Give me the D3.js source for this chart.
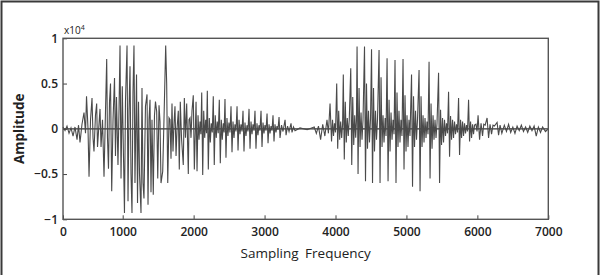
<!DOCTYPE html>
<html>
<head>
<meta charset="utf-8">
<script src="https://cdn.jsdelivr.net/npm/d3@7"></script>
<style>
  html, body { margin: 0; padding: 0; background: #fff; }
  svg text { font-family: "Open Sans", "Noto Sans", sans-serif; fill: #222; }
</style>
</head>
<body>
<svg id="chart" width="603" height="275"></svg>
<script>
// waveform: sample index and amplitude (x10^4)
const waveSample = [
  0,34,67,101,134,168,201,235,260,285,318,352,377,394,419,436,461,486,503,519,
  544,564,578,603,620,637,662,687,712,732,745,762,779,796,816,838,863,879,896,921,
  938,955,972,993,1011,1025,1039,1061,1075,1089,1103,1117,1131,1145,1159,1173,1195,1209,1223,1237,
  1258,1272,1286,1300,1321,1343,1357,1371,1385,1399,1413,1431,1448,1462,1479,1494,1512,1526,1540,1564,
  1582,1606,1620,1635,1653,1667,1681,1695,1709,1723,1737,1752,1766,1784,1798,1812,1829,1854,1869,1885,
  1902,1925,1935,1949,1963,1977,1995,2010,
  2034,2048,2062,2076,2090,2102, 2114,2128,2142,2156,2170,2182, 2193,2207,2221,2235,2249,2263,
  2277,2291,2305,2319,2333,2347, 2362,2376,2390,2404,2418,2430, 2442,2456,2470,2484,2498,2512,
  2527,2541,2555,2569,2583,2597, 2612,2626,2640,2654,2668,2682, 2696,2710,2724,2738,2752,2766,
  2781,2795,2809,2823,2837,2851, 2865,2879,2893,2907,2921,2935, 2950,2964,2978,2992,3006,3020,
  3035,3049,3063,3077,3091,3105, 3119,3133,3147,3161,3175,3189, 3204,3218,3239,3260, 3289,3303,3324,3345,
  3373,3387,3408,3429,
  3500,3600,3700,3730,3760,3790,3820,3850,3880,3900,
  3923,3944,3958,3972,3986,4000, 4017,4031,4045,4059,4073,4087,4100,
  4110,4124,4138,4152,4166,4180,4194, 4215,4229,4243,4257,4271,4285,4295,
  4304,4318,4332,4346,4360,4374,4388, 4409,4423,4437,4451,4465,4479,4494,
  4508,4522,4536,4550,4564,4578,4592, 4614,4628,4642,4656,4670,4684,4700,4712,
  4727,4741,4755,4769,4783,4797,4811,4825, 4839,4853,4867,4881,4895,4909,4923,4937,
  4952,4966,4980,4994,5008,5022,5036,5050, 5072,5086,5100,5114,5128,5142,5156,
  5178,5192,5206,5220,5234,5248,5262,5276,5290,5304, 5319,5333,5347,5361,5375,5389,5403,5417,5431,
  5453,5467,5481,5495,5509,5523,5537,5551,5565,5579, 5594,5608,5622,5636,5650,5664,5678,5692,5706,5720,
  5735,5749,5763,5777,5791,5805,5819,5833,5847,5861, 5876,5890,5904,5918,5932,5946,5960,5980,5995,
  6010,6031,6052,6073,6090,6110, 6137,6158,6179,6200,6220,6240, 6278,6299,6320,6345,
  6380,6410,6440,6470,6500,6530,6560,6590,6620,6650,6680,6710,6740,6770,6800,6830,6860,6890,6920,6960,7000
];
const waveAmp = [
  0.02,-0.02,0.03,-0.05,0.01,-0.08,0.02,-0.12,0.04,-0.15,0.05,0.18,-0.05,0.36,0.0,-0.53,0.1,0.34,-0.1,-0.25,
  0.15,0.28,-0.2,0.05,0.22,-0.2,0.1,-0.53,0.2,0.77,-0.1,-0.44,0.3,0.5,-0.69,0.1,0.56,-0.3,0.35,-0.4,
  0.2,0.92,-0.55,0.47,-0.3,-0.93,0.3,0.92,-0.8,0.2,0.69,-0.5,-0.93,0.4,0.92,-0.6,0.6,-0.82,0.3,-0.5,
  -0.93,0.45,-0.6,-0.77,0.25,0.38,-0.84,0.1,0.32,-0.7,0.1,-0.73,0.15,0.3,0.19,-0.55,0.26,0.08,-0.6,-0.47,
  0.1,0.92,0.5,-0.6,0.12,0.1,-0.33,0.28,-0.25,0.05,0.25,-0.3,0.0,0.2,-0.45,0.3,-0.1,-0.4,0.34,-0.1,
  0.28,-0.5,0.1,0.12,-0.1,0.2,0.37,-0.45,
  0.30,-0.47,0.15,-0.12,0.08,-0.06, 0.40,-0.51,0.2,-0.1,0.1,-0.05, 0.42,-0.45,0.12,-0.15,0.06,-0.04,
  0.36,-0.40,0.15,-0.1,0.08,-0.05, 0.32,-0.38,0.1,-0.12,0.06,-0.04, 0.33,-0.32,0.12,-0.08,0.07,-0.04,
  0.25,-0.26,0.08,-0.1,0.05,-0.03, 0.25,-0.24,0.1,-0.06,0.05,-0.03, 0.20,-0.25,0.07,-0.08,0.04,-0.03,
  0.22,-0.22,0.08,-0.06,0.05,-0.02, 0.20,-0.22,0.06,-0.07,0.04,-0.02, 0.20,-0.20,0.07,-0.05,0.04,-0.02,
  0.17,-0.16,0.05,-0.05,0.03,-0.02, 0.15,-0.14,0.05,-0.04,0.03,-0.01, 0.13,-0.10,0.04,-0.03, 0.10,-0.07,0.03,-0.03,
  0.06,-0.04,0.02,-0.02,
  0.01,-0.01,0.02,-0.05,0.03,-0.12,0.05,-0.08,0.1,-0.05,
  0.28,-0.14,0.1,-0.08,0.06,-0.04, 0.50,-0.22,0.2,-0.12,0.08,-0.1,0.05,
  0.60,-0.34,0.3,-0.15,0.12,-0.08,0.1, 0.67,-0.40,0.35,-0.18,0.15,-0.1,0.08,
  0.91,-0.50,0.45,-0.2,0.18,-0.12,0.1, 0.91,-0.58,0.5,-0.22,0.2,-0.15,0.12,
  0.88,-0.60,0.45,-0.25,0.2,-0.12,0.1, 0.87,-0.60,0.57,-0.2,0.15,-0.15,0.12,-0.08,
  0.78,-0.58,0.32,-0.25,0.18,-0.12,0.1,-0.06, 0.76,-0.60,0.4,-0.2,0.2,-0.15,0.1,-0.08,
  0.77,-0.45,0.37,-0.25,0.15,-0.2,0.1,-0.08, 0.60,-0.64,0.36,-0.2,0.2,-0.12,0.1,
  0.65,-0.69,0.36,-0.2,0.15,-0.15,0.12,-0.1,0.08,-0.06, 0.74,-0.55,0.28,-0.22,0.15,-0.12,0.1,-0.1,0.06,
  0.62,-0.60,0.21,-0.18,0.12,-0.15,0.1,-0.08,0.06,-0.05, 0.41,-0.31,0.14,-0.12,0.1,-0.1,0.08,-0.06,0.05,-0.04,
  0.34,-0.29,0.1,-0.1,0.08,-0.08,0.06,-0.05,0.04,-0.03, 0.32,-0.14,0.08,-0.1,0.05,-0.06,0.04,0.05,-0.03,
  0.15,-0.12,0.06,-0.08,0.05,0.04, 0.12,-0.10,0.05,-0.06,0.04,0.03, 0.07,-0.07,0.04,-0.05,
  0.04,-0.03,0.05,-0.04,0.02,-0.05,0.03,-0.02,0.04,-0.03,0.02,-0.04,0.03,-0.02,0.03,-0.08,0.02,-0.04,0.02,-0.03,0.0
];
const xTicks = [0,1000,2000,3000,4000,5000,6000,7000];
const yTicks = [-1,-0.5,0,0.5,1];

const svg = d3.select("#chart");
const mLeft = 63, mRight = 548.3, mTop = 38.3, mBottom = 219.3;

// the picture's axis is not evenly spaced before the first tick
const x = d3.scaleLinear().domain([0,1000,7000]).range([mLeft,122.7,mRight]);
const y = d3.scaleLinear().domain([-1,1]).range([mBottom,mTop]);

// outer frame of the figure
svg.append("path")
  .attr("d","M1.5,275 V1.5 H598.5 V275")
  .attr("fill","none").attr("stroke","#3a3a3a").attr("stroke-width",2);

const wave = waveSample.map((s,i)=>[s,waveAmp[i]]);

svg.append("line")
  .attr("x1",mLeft).attr("x2",mRight).attr("y1",y(0)).attr("y2",y(0))
  .attr("stroke","#333").attr("stroke-width",1.2);

svg.append("path")
  .datum(wave)
  .attr("fill","none")
  .attr("stroke","#4a4a4a")
  .attr("stroke-width",1.1)
  .attr("d",d3.line().x(d=>x(d[0])).y(d=>y(d[1])));

const xAxis = svg.append("g")
  .attr("transform",`translate(0,${mBottom})`)
  .call(d3.axisBottom(x).tickValues(xTicks).tickFormat(d3.format("d")).tickSize(-4).tickPadding(8));
const yAxis = svg.append("g")
  .attr("transform",`translate(${mLeft},0)`)
  .call(d3.axisLeft(y).tickValues(yTicks).tickFormat(d3.format("")).tickSize(-4).tickPadding(5));

[xAxis,yAxis].forEach(g=>{
  g.select(".domain").remove();
  g.selectAll(".tick line").attr("stroke","#444");
  g.selectAll(".tick text").attr("font-size","12px").attr("font-weight","600").attr("fill","#222");
});

svg.append("rect")
  .attr("x",mLeft).attr("y",mTop).attr("width",mRight-mLeft).attr("height",mBottom-mTop)
  .attr("fill","none").attr("stroke","#555").attr("stroke-width",1.4);

const expo = svg.append("text").attr("x",mLeft+1).attr("y",mTop-4).attr("font-size","10px");
expo.append("tspan").text("x10");
expo.append("tspan").attr("dy",-4).attr("font-size","7px").text("4");

svg.append("text")
  .attr("x",(mLeft+mRight)/2).attr("y",258)
  .attr("text-anchor","middle").attr("font-size","13.5px").attr("word-spacing","3px")
  .text("Sampling Frequency");

svg.append("text")
  .attr("transform",`translate(24,${(mTop+mBottom)/2}) rotate(-90)`)
  .attr("text-anchor","middle").attr("font-size","13.5px").attr("font-weight","bold")
  .text("Amplitude");
</script>
</body>
</html>
